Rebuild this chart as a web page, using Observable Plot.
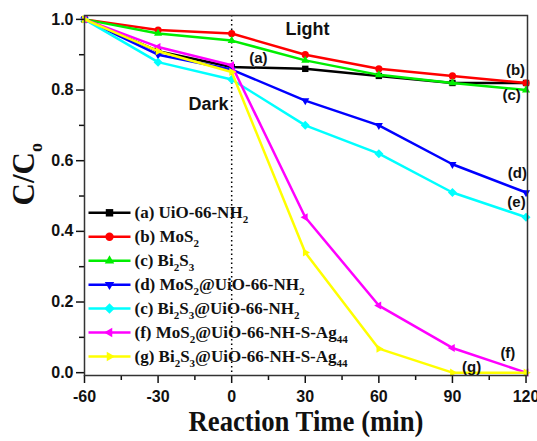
<!DOCTYPE html>
<html><head><meta charset="utf-8">
<script src="https://cdn.jsdelivr.net/npm/d3@7"></script>
<script src="https://cdn.jsdelivr.net/npm/@observablehq/plot@0.6"></script>
<style>
body{margin:0;background:#fff;}
#chart svg{display:block;}
</style></head>
<body><div id="chart"></div>
<script>
// ---- data ----
const times = [-60, -30, 0, 30, 60, 90, 120];
const uio      = [1.0, 0.91, 0.865, 0.86, 0.84, 0.82, 0.82];
const mos2     = [1.0, 0.97, 0.96, 0.90, 0.86, 0.84, 0.82];
const bi2s3    = [1.0, 0.96, 0.94, 0.884, 0.843, 0.82, 0.80];
const mos2Uio  = [1.0, 0.90, 0.858, 0.77, 0.70, 0.59, 0.51];
const bi2s3Uio = [1.0, 0.879, 0.83, 0.70, 0.62, 0.51, 0.44];
const mos2Ag   = [1.0, 0.922, 0.87, 0.44, 0.19, 0.07, 0.0];
const bi2s3Ag  = [1.0, 0.91, 0.851, 0.34, 0.068, 0.0, 0.0];
const seriesValues = [uio, mos2, bi2s3, mos2Uio, bi2s3Uio, mos2Ag, bi2s3Ag];
const legendLabels = [
  "(a) UiO-66-NH_{2}",
  "(b) MoS_{2}",
  "(c) Bi_{2}S_{3}",
  "(d) MoS_{2}@UiO-66-NH_{2}",
  "(c) Bi_{2}S_{3}@UiO-66-NH_{2}",
  "(f) MoS_{2}@UiO-66-NH-S-Ag_{44}",
  "(g) Bi_{2}S_{3}@UiO-66-NH-S-Ag_{44}"
];
const xMajorTicks = [-60, -30, 0, 30, 60, 90, 120];
const xMinorTicks = [-45, -15, 15, 45, 75, 105];
const yMajorTicks = [0, 0.2, 0.4, 0.6, 0.8, 1.0];
const yMinorTicks = [0.1, 0.3, 0.5, 0.7, 0.9];
const annotLabels = ["Light", "Dark", "(a)", "(b)", "(c)", "(d)", "(e)", "(f)", "(g)"];
const annotX = [30.9, -9.45, 10.9, 115.7, 114.1, 116.5, 116.1, 112.6, 97.8];
const annotY = [0.972, 0.759, 0.89, 0.856, 0.785, 0.564, 0.482, 0.055, 0.015];
const xTitle = "Reaction Time (min)";
const yTitle = "C/C_{o}";

// ---- styles ----
const colors = ["#000000", "#ff0000", "#00ee00", "#0000ff", "#00ffff", "#ff00ff", "#ffff00"];
const tri = (angle) => ({draw(ctx, size) {
  const r = Math.sqrt(size / Math.PI) * 1.3;
  for (let k = 0; k < 3; k++) {
    const a = angle + k * 2 * Math.PI / 3;
    const px = r * Math.sin(a), py = -r * Math.cos(a);
    if (k) ctx.lineTo(px, py); else ctx.moveTo(px, py);
  }
  ctx.closePath();
}});
const diamond = {draw(ctx, size) {
  const r = Math.sqrt(size / Math.PI) * 1.25;
  ctx.moveTo(0, -r); ctx.lineTo(r, 0); ctx.lineTo(0, r); ctx.lineTo(-r, 0); ctx.closePath();
}};
const symbols = ["square", "circle", tri(0), tri(Math.PI), diamond, tri(-Math.PI / 2), tri(Math.PI / 2)];
const legendLine = {draw(ctx) { ctx.moveTo(-21, 0); ctx.lineTo(21, 0); }};
const sans = "'Liberation Sans', Arial, Helvetica, sans-serif";
const serif = "'Liberation Serif', 'Times New Roman', Times, serif";

const marks = [];
marks.push(Plot.ruleX([0], {stroke: "#000", strokeWidth: 1.5, strokeDasharray: "1.5,3"}));
seriesValues.forEach((vals, i) => {
  const rows = times.map((t, j) => ({t, v: vals[j]}));
  marks.push(Plot.line(rows, {x: "t", y: "v", stroke: colors[i], strokeWidth: 2.5}));
  marks.push(Plot.dot(rows, {x: "t", y: "v", symbol: symbols[i], fill: colors[i], stroke: "none", r: 3.6}));
});
// legend
legendLabels.forEach((lab, i) => {
  const dy = 197.3 + 23.95 * i;
  marks.push(Plot.dot([lab], {frameAnchor: "top-left", dx: 25, dy, symbol: legendLine, stroke: colors[i], fill: "none", strokeWidth: 2.5, r: 5}));
  marks.push(Plot.dot([lab], {frameAnchor: "top-left", dx: 25, dy, symbol: symbols[i], fill: colors[i], stroke: "none", r: 4.2}));
  marks.push(Plot.text([lab], {frameAnchor: "top-left", dx: 50, dy, text: d => d, textAnchor: "start", lineAnchor: "middle",
    fontFamily: serif, fontWeight: "bold", fontSize: 17, fill: "#111"}));
});
// annotations
marks.push(Plot.text(annotLabels, {x: (d, i) => annotX[i], y: (d, i) => annotY[i], text: d => d,
  fontFamily: sans, fontWeight: "bold", fontSize: (d) => (d === "Light" || d === "Dark") ? 18 : 15, fill: "#111"}));
// axes
marks.push(Plot.axisX(xMajorTicks, {tickSize: 8, tickPadding: 7, tickFormat: d => String(d), fontSize: 16, fontWeight: "bold", fontFamily: sans, strokeWidth: 1.5, label: null, color: "#111"}));
marks.push(Plot.axisX(xMinorTicks, {tickSize: 5, tickFormat: () => "", strokeWidth: 1.5, label: null}));
marks.push(Plot.axisY(yMajorTicks, {tickSize: 8, tickPadding: 3, tickFormat: d3.format(".1f"), fontSize: 16, fontWeight: "bold", fontFamily: sans, strokeWidth: 1.5, label: null}));
marks.push(Plot.axisY(yMinorTicks, {tickSize: 5, tickFormat: () => "", strokeWidth: 1.5, label: null}));
marks.push(Plot.frame({stroke: "#333", strokeWidth: 1.5}));
// axis titles
marks.push(Plot.text([xTitle], {frameAnchor: "bottom", dy: 55, text: d => d, fontFamily: serif, fontWeight: "bold", fontSize: 30, fill: "#111"}));
marks.push(Plot.text([yTitle], {frameAnchor: "left", dx: -60, dy: 10, rotate: -90, text: d => d, fontFamily: serif, fontWeight: "bold", fontSize: 31, fill: "#111"}));

const chart = Plot.plot({
  width: 537, height: 441,
  marginLeft: 84, marginRight: 10, marginTop: 15, marginBottom: 66,
  x: {domain: [-60, 120.6]},
  y: {domain: [-0.008, 1.011]},
  style: {fontFamily: sans, fontSize: "16px", background: "#fff", color: "#111"},
  marks
});
document.getElementById("chart").append(chart);

// subscripts: turn "_{..}" markup into tspans
function subscriptify(textEl, subSize, shift) {
  const s = textEl.textContent;
  const parts = s.split(/(_\{[^}]*\})/).filter(p => p.length);
  const sel = d3.select(textEl);
  sel.text(null);
  let down = false;
  parts.forEach(p => {
    if (p.startsWith("_{")) {
      sel.append("tspan").attr("font-size", subSize).attr("dy", down ? 0 : shift).text(p.slice(2, -1));
      down = true;
    } else {
      sel.append("tspan").attr("dy", down ? -shift : 0).text(p);
      down = false;
    }
  });
}
d3.select(chart).selectAll("text").each(function() {
  const s = this.textContent;
  if (s === xTitle) {
    d3.select(this).attr("textLength", 235).attr("lengthAdjust", "spacingAndGlyphs");
  } else if (s.includes("_{")) {
    if (s.startsWith("C/C")) subscriptify(this, 18, 8);
    else subscriptify(this, 11, 5);
  }
});
</script>
</body></html>
